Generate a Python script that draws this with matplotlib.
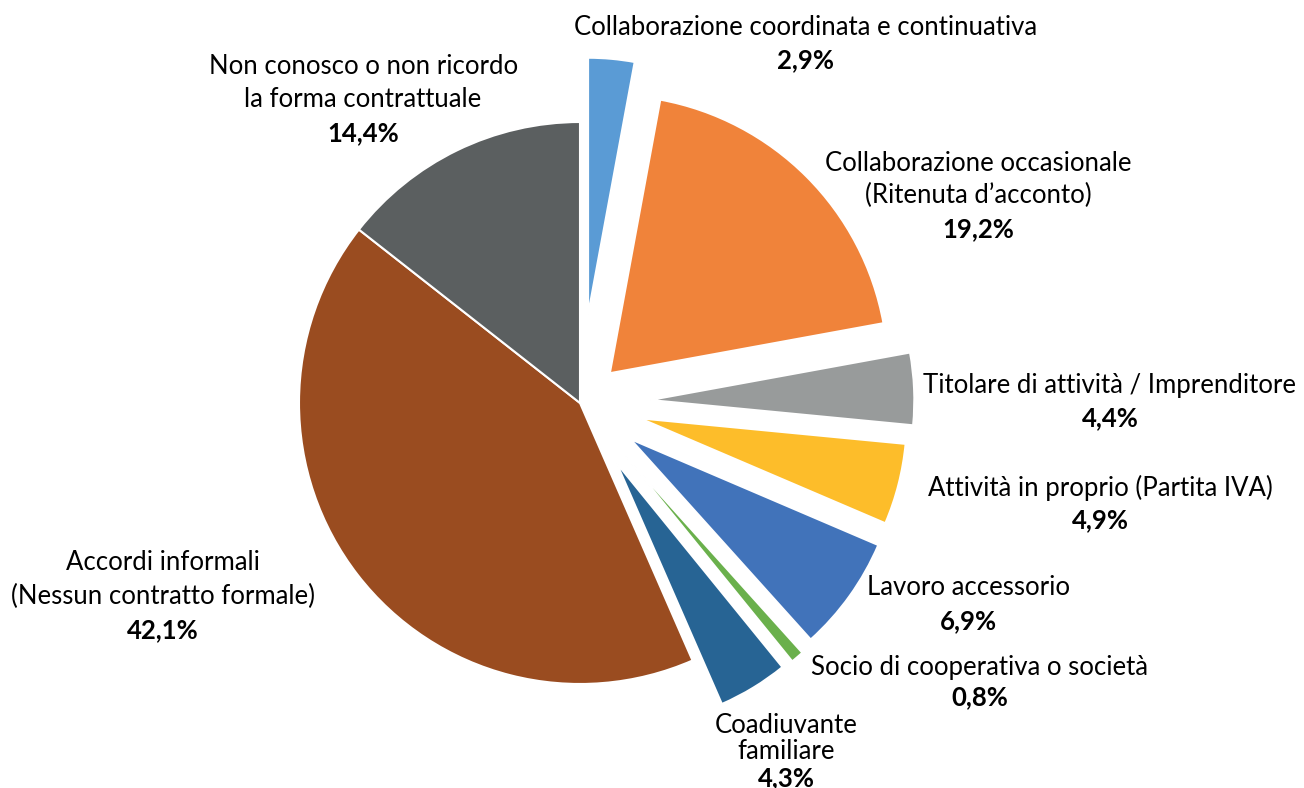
import matplotlib
matplotlib.use('Agg')
import matplotlib.pyplot as plt

plt.rcParams['font.family'] = ['Lato', 'DejaVu Sans']

# slices, clockwise from 12 o'clock
labels = [
    ['Collaborazione coordinata e continuativa'],
    ['Collaborazione occasionale', '(Ritenuta d\u2019acconto)'],
    ['Titolare di attività / Imprenditore'],
    ['Attività in proprio (Partita IVA)'],
    ['Lavoro accessorio'],
    ['Socio di cooperativa o società'],
    ['Coadiuvante', 'familiare'],
    ['Accordi informali', '(Nessun contratto formale)'],
    ['Non conosco o non ricordo', 'la forma contrattuale'],
]
values = [2.9, 19.2, 4.4, 4.9, 6.9, 0.8, 4.3, 42.1, 14.4]
pct_text = ['2,9%', '19,2%', '4,4%', '4,9%', '6,9%', '0,8%', '4,3%', '42,1%', '14,4%']

colors = ['#5A9BD5', '#F0833A', '#989B9B', '#FDBD2A', '#4173BA',
          '#6AB04C', '#276494', '#9A4C20', '#5B5F60']
explode = [0.315, 0.15, 0.25, 0.22, 0.22, 0.25, 0.25, 0.0, 0.0]
radii = [0.915, 0.99, 0.94, 0.95, 0.96, 0.94, 0.936, 1.0, 1.0]

# label anchor (first line centre) and line step, in pie-radius units
label_pos = [(0.804, 1.338), (1.416, 0.854), (1.886, 0.064), (1.851, -0.302),
             (1.384, -0.658), (1.423, -0.940), (0.733, -1.149), (-1.484, -0.569),
             (-0.772, 1.199)]
label_step = [0.117, 0.117, 0.117, 0.114, 0.117, 0.107, 0.0925, 0.12, 0.12]

fig = plt.figure(figsize=(13.04, 7.88), dpi=100)
ax = fig.add_axes([0, 0, 1, 1])

wedges, _ = ax.pie(values, colors=colors, explode=explode, startangle=90,
                   counterclock=False,
                   wedgeprops=dict(edgecolor='white', linewidth=1.5))
for w, r in zip(wedges, radii):
    w.set_radius(r)

for lines, pct, (x, y), step in zip(labels, pct_text, label_pos, label_step):
    for i, line in enumerate(lines):
        ax.text(x, y - i * step, line, ha='center', va='center', fontsize=18.5)
    ax.text(x, y - len(lines) * step, pct, ha='center', va='center',
            fontsize=18.5, fontweight='bold')

ax.set_xlim(-580 / 281, (1304 - 580) / 281)
ax.set_ylim(-(788 - 403) / 281, 403 / 281)
ax.set_aspect('equal')
ax.axis('off')

fig.savefig('out.png', dpi=100)
